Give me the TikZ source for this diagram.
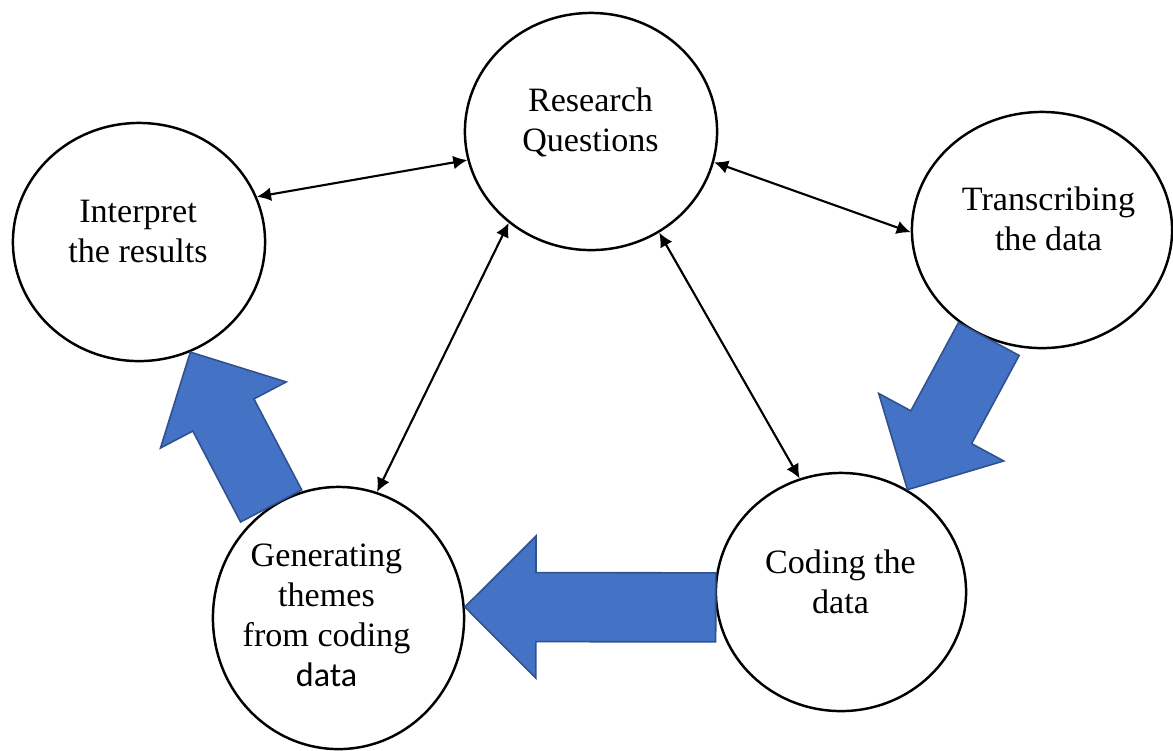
\documentclass[tikz,border=0pt]{standalone}
\usepackage{fontspec}
\setmainfont{Liberation Serif}
\newfontfamily\datafont{Carlito}
\usetikzlibrary{shapes.geometric,arrows.meta,calc}

\definecolor{arrowfill}{HTML}{4472C4}
\definecolor{arrowedge}{HTML}{2F528F}

\tikzset{
  stage/.style={ellipse, draw, line width=0.7pt, inner sep=0pt},
  stagetext/.style={align=center, inner sep=0pt, font=\fontsize{9.7pt}{11.38pt}\selectfont},
  link/.style={{Latex[length=4pt,width=3.9pt]}-{Latex[length=4pt,width=3.9pt]}, line width=0.6pt},
  bigarrow/.style={fill=arrowfill, draw=arrowedge, line width=0.45pt, line join=miter}
}

% wide blue arrow from #1 (tail) to #2 (tip)
\newcommand{\blockarrow}[2]{%
  \draw[bigarrow]
    ($(#1)!0.345cm!90:(#2)$)
    -- ($($(#2)!0.71cm!(#1)$)!0.345cm!90:(#2)$)
    -- ($($(#2)!0.71cm!(#1)$)!0.71cm!90:(#2)$)
    -- (#2)
    -- ($($(#2)!0.71cm!(#1)$)!0.71cm!-90:(#2)$)
    -- ($($(#2)!0.71cm!(#1)$)!0.345cm!-90:(#2)$)
    -- ($(#1)!0.345cm!-90:(#2)$)
    -- cycle;}

\begin{document}
\begin{tikzpicture}[x=0.01cm, y=-0.01cm]
  \useasboundingbox (0,0) rectangle (1173,750);

  \node[stage, minimum width=2.52cm, minimum height=2.37cm] (res) at (591,131.5) {};
  \node[stagetext] (res-txt) at (590.5,122.5) {Research\\Questions};

  \node[stage, minimum width=2.52cm, minimum height=2.38cm] (int) at (139,242) {};
  \node[stagetext] (int-txt) at (138,231.5) {Interpret\\the results};

  \node[stage, minimum width=2.60cm, minimum height=2.36cm] (tra) at (1042,230) {};
  \node[stagetext] (tra-txt) at (1048.5,218.5) {Transcribing\\the data};

  \node[stage, minimum width=2.50cm, minimum height=2.38cm] (cod) at (841,592) {};
  \node[stagetext] (cod-txt) at (840.5,581.5) {Coding the\\data};

  \node[stage, minimum width=2.51cm, minimum height=2.62cm] (gen) at (338.5,618) {};
  \node[stagetext] (gen-txt) at (326.5,615.5) {Generating\\themes\\from coding\\{\datafont data}};

  % research questions linked to every stage
  \draw[link] (int.21) -- (res.193);
  \draw[link] (res.346) -- (tra.181);
  \draw[link] (res.228) -- (gen.73);
  \draw[link] (res.304) -- (cod.110);

  % process flow
  \blockarrow{tra.244}{cod.57}
  \blockarrow{cod.187}{gen.5}
  \blockarrow{gen.121}{int.295}
\end{tikzpicture}
\end{document}
